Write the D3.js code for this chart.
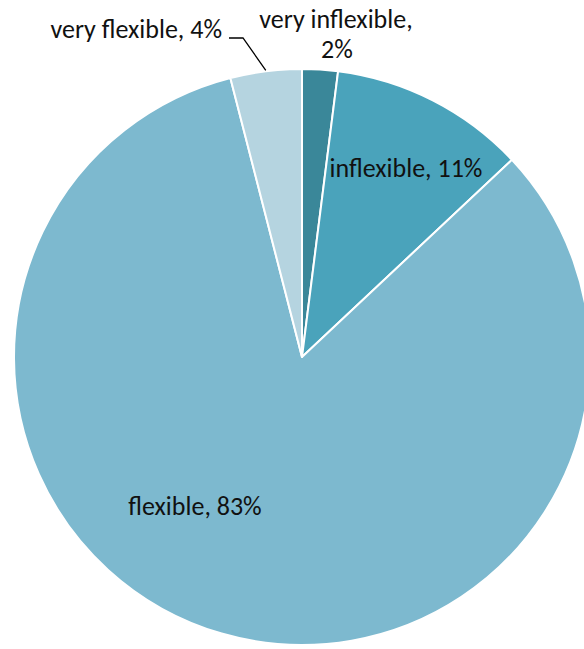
<!DOCTYPE html>
<html>
<head>
<meta charset="utf-8">
<script src="https://cdn.jsdelivr.net/npm/d3@7"></script>
<style>
  html, body { margin: 0; padding: 0; background: #fff; }
  svg { display: block; }
  text { font-family: Carlito, Calibri, Lato, sans-serif; fill: #111; }
</style>
</head>
<body>
<svg id="chart" width="584" height="649"></svg>
<script>
// Share of respondents by flexibility rating (percent)
const categories = ["very inflexible", "inflexible", "flexible", "very flexible"];
const values = [2, 11, 83, 4];
const colors = ["#3a8799", "#4aa3bb", "#7db9cf", "#b5d4e0"];

const svg = d3.select("#chart");
const cx = 302, cy = 357, radius = 288;

const pie = d3.pie().sort(null).value(d => d.value);
const arcs = pie(categories.map((c, i) => ({ name: c, value: values[i], color: colors[i] })));
const arc = d3.arc().innerRadius(0).outerRadius(radius);

const g = svg.append("g").attr("transform", `translate(${cx},${cy})`);

g.selectAll("path.slice")
  .data(arcs)
  .join("path")
  .attr("class", "slice")
  .attr("d", arc)
  .attr("fill", d => d.data.color)
  .attr("stroke", "#fff")
  .attr("stroke-width", 2)
  .attr("stroke-linejoin", "round");

const fontSize = 26;
const label = d => `${d.data.name}, ${d.data.value}%`;

// inflexible: inside its slice
const aInf = arcs[1];
svg.append("text")
  .attr("x", 406).attr("y", 177)
  .attr("text-anchor", "middle")
  .attr("font-size", fontSize)
  .text(label(aInf));

// flexible: inside the large slice
const aFlex = arcs[2];
svg.append("text")
  .attr("x", 195).attr("y", 515)
  .attr("text-anchor", "middle")
  .attr("font-size", fontSize)
  .text(label(aFlex));

// very inflexible: two lines above the pie
const aVI = arcs[0];
const vi = svg.append("text")
  .attr("text-anchor", "middle")
  .attr("font-size", fontSize);
vi.append("tspan").attr("x", 336).attr("y", 28).text(`${aVI.data.name},`);
vi.append("tspan").attr("x", 337).attr("y", 58).text(`${aVI.data.value}%`);

// very flexible: label with leader line to the slice edge
const aVF = arcs[3];
svg.append("text")
  .attr("x", 222).attr("y", 38)
  .attr("text-anchor", "end")
  .attr("font-size", fontSize)
  .text(label(aVF));

const mid = (aVF.startAngle + aVF.endAngle) / 2;
const edge = [cx + Math.sin(mid) * (radius + 1), cy - Math.cos(mid) * (radius + 1)];
svg.append("polyline")
  .attr("points", [[229, 38], [243, 38], edge].map(p => p.join(",")).join(" "))
  .attr("fill", "none")
  .attr("stroke", "#000")
  .attr("stroke-width", 1.3);
</script>
</body>
</html>
